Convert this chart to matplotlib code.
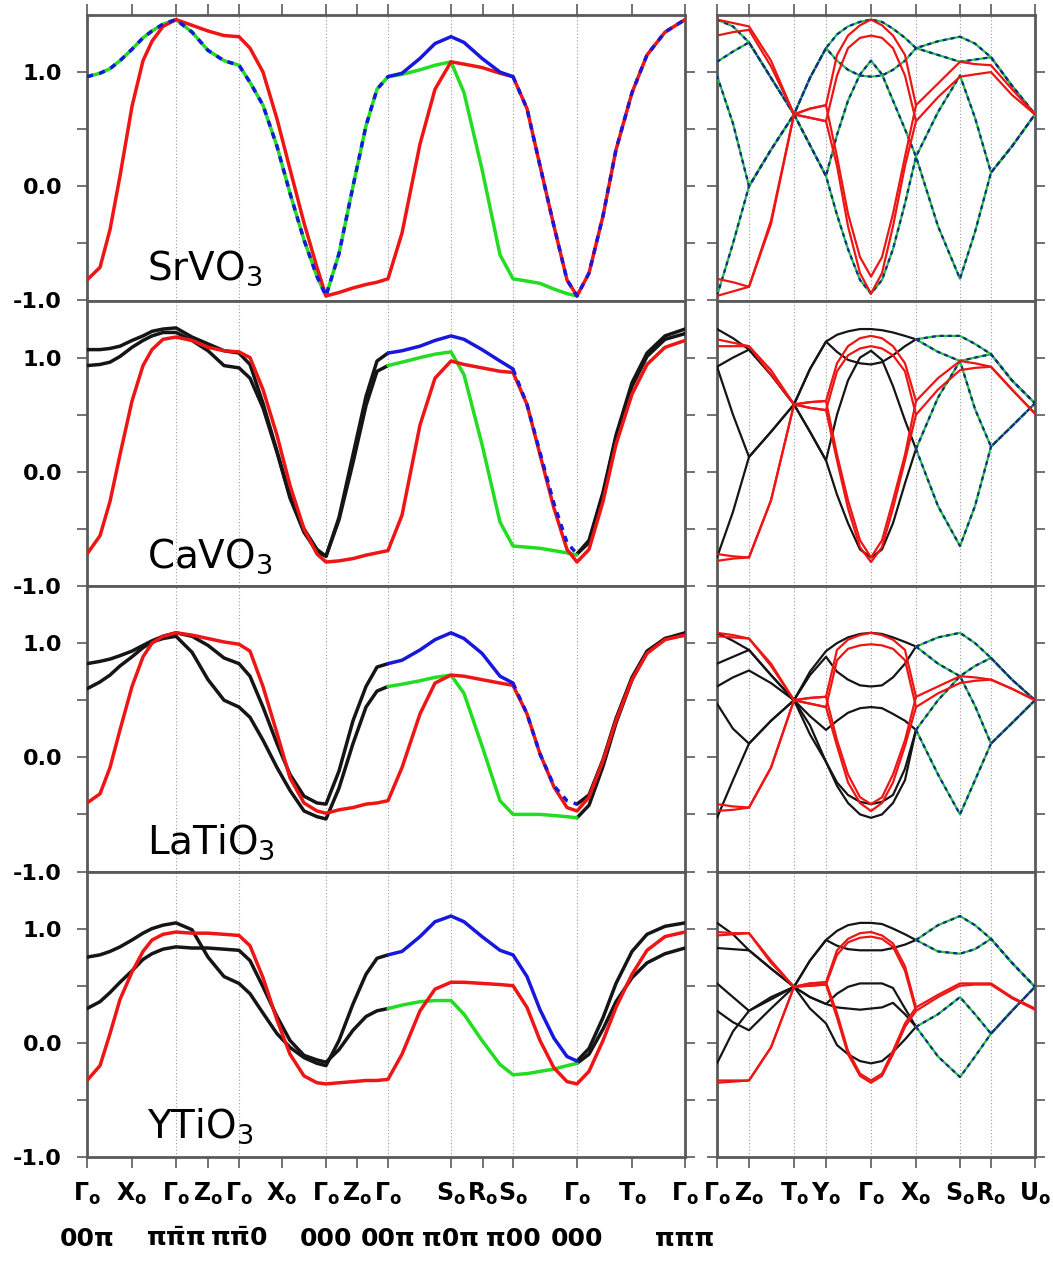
import numpy as np
import matplotlib
matplotlib.use("Agg")
import matplotlib.pyplot as plt
from matplotlib.transforms import blended_transform_factory

plt.rcParams['font.family'] = ['DejaVu Sans']
plt.rcParams['mathtext.fontset'] = 'dejavusans'
plt.rcParams['mathtext.default'] = 'regular'

N = None

# ---------------- k-path (left: long path, right: orthorhombic path) ----------------
LEFT_K = [0, 13, 23, 33, 45, 56, 65, 76, 89, 105, 121, 137, 152, 163, 176, 190, 203, 217,
          230, 239, 252, 266, 279, 290, 301, 315, 333, 348, 364, 377, 395, 413, 426, 440,
          453, 467, 480, 490, 502, 516, 529, 545, 560, 578, 598]
LEFT_TICKS = [0, 45, 89, 121, 152, 195, 239, 270, 301, 364, 396, 426, 490, 545, 598]
LEFT_LABELS = ['Γ', 'X', 'Γ', 'Z', 'Γ', 'X', 'Γ', 'Z', 'Γ', 'S', 'R', 'S', 'Γ', 'T', 'Γ']
LEFT_COORD_TICK = [0, 2, 4, 6, 8, 9, 11, 12, 14]
LEFT_COORDS = ['00π', 'π$\\bar{π}$π', 'π$\\bar{π}$0', '000', '00π', 'π0π', 'π00', '000', 'πππ']
LEFT_GRID = [89, 152, 239, 301, 364, 426, 490]

RIGHT_K = [0, 16, 32, 54, 77, 93, 109, 120, 131, 143, 154, 165, 176, 188, 199, 221, 243,
           258, 274, 295, 318]
RIGHT_TICKS = [0, 32, 77, 109, 154, 199, 243, 274, 318]
RIGHT_LABELS = ['Γ', 'Z', 'T', 'Y', 'Γ', 'X', 'S', 'R', 'U']
RIGHT_GRID = [32, 77, 109, 154, 199, 243, 274]

MATERIALS = ['SrVO$_3$', 'CaVO$_3$', 'LaTiO$_3$', 'YTiO$_3$']

# ---------------- SrVO3 ----------------
SRVO3_L_RED = [-0.82, -0.71, -0.38, 0.09, 0.70, 1.10, 1.27, 1.40, 1.46, 1.41, 1.36, 1.32, 1.31,
               1.21, 1.00, 0.59, 0.15, -0.32, -0.71, -0.96, -0.93, -0.89, -0.86, -0.84, -0.81,
               -0.41, 0.37, 0.85, 1.09, 1.07, 1.04, 0.99, 0.96, 0.68, 0.18, -0.35, -0.82, -0.96,
               -0.76, -0.26, 0.32, 0.82, 1.15, 1.35, 1.46]
SRVO3_L_GB = [0.96, 0.99, 1.03, 1.10, 1.20, 1.30, 1.36, 1.42, 1.46, 1.35, 1.19, 1.10, 1.06, 0.91,
              0.71, 0.35, -0.06, -0.47, -0.79, -0.96, -0.59, 0.00, 0.53, 0.85, 0.96] + [N] * 20
SRVO3_L_BLUE = [N] * 24 + [0.96, 0.99, 1.12, 1.25, 1.31, 1.26, 1.12, 1.00, 0.96] + [N] * 12
SRVO3_L_GREEN = [N] * 24 + [0.96, 0.98, 1.02, 1.06, 1.09, 0.82, 0.15, -0.60, -0.81, -0.83, -0.85,
                            -0.90, -0.94, -0.96] + [N] * 7
SRVO3_R_TEAL = [
    [1.46, 1.40, 1.26, 0.95, 0.63, 0.95, 1.21, 1.33, 1.40, 1.44, 1.46, 1.44, 1.38, 1.30, 1.21, 1.27, 1.31, 1.25, 1.13, 0.88, 0.63],
    [1.09, 1.18, 1.26, 0.95, 0.63, 0.95, 1.21, 1.10, 1.02, 0.97, 0.96, 0.97, 1.02, 1.10, 1.21, 1.15, 1.09, 1.11, 1.13, 0.88, 0.63],
    [0.97, 0.55, 0.00, 0.32, 0.63, 0.36, 0.09, 0.45, 0.75, 0.98, 1.10, 0.98, 0.75, 0.50, 0.26, 0.65, 0.97, 0.60, 0.12, 0.35, 0.63],
    [-0.96, -0.50, 0.00, 0.32, 0.63, 0.36, 0.09, -0.25, -0.55, -0.82, -0.94, -0.82, -0.55, -0.15, 0.26, -0.35, -0.81, -0.40, 0.12, 0.35, 0.63]]
SRVO3_R_RED = [
    [1.46, 1.43, 1.40, 1.10, 0.63, 0.68, 0.71, 1.15, 1.32, 1.41, 1.46, 1.41, 1.32, 1.15, 0.71, 0.90, 1.09, 1.07, 1.06, 0.85, 0.63],
    [1.32, 1.35, 1.37, 1.05, 0.63, 0.60, 0.57, 0.97, 1.21, 1.30, 1.32, 1.30, 1.21, 0.97, 0.57, 0.78, 0.96, 0.98, 1.00, 0.80, 0.63],
    [-0.81, -0.84, -0.88, -0.33, 0.63, 0.68, 0.71, 0.26, -0.24, -0.62, -0.79, -0.62, -0.24, 0.26, 0.71] + [N] * 6,
    [-0.96, -0.92, -0.88, -0.30, 0.63, 0.60, 0.57, 0.18, -0.35, -0.76, -0.94, -0.76, -0.35, 0.18, 0.57] + [N] * 6]
SRVO3_R_BLACK = []

# ---------------- CaVO3 ----------------
CAVO3_L_RED = [-0.72, -0.56, -0.26, 0.15, 0.62, 0.93, 1.07, 1.16, 1.18, 1.15, 1.09, 1.06, 1.05,
               1.00, 0.72, 0.32, -0.12, -0.50, -0.72, -0.79, -0.78, -0.76, -0.73, -0.71, -0.69,
               -0.38, 0.41, 0.82, 0.97, 0.94, 0.91, 0.88, 0.87, 0.59, 0.15, -0.32, -0.68, -0.79,
               -0.68, -0.26, 0.24, 0.68, 0.94, 1.09, 1.15]
CAVO3_L_BLACK1 = [1.07, 1.07, 1.08, 1.10, 1.15, 1.19, 1.23, 1.25, 1.26, 1.18, 1.12, 1.06, 1.04,
                  0.94, 0.60, 0.18, -0.21, -0.50, -0.68, -0.74, -0.40, 0.15, 0.66, 0.97, 1.04] + \
                 [N] * 12 + [-0.72, -0.60, -0.18, 0.32, 0.78, 1.04, 1.19, 1.25]
CAVO3_L_BLACK2 = [0.93, 0.94, 0.96, 1.01, 1.09, 1.15, 1.19, 1.22, 1.22, 1.15, 1.06, 0.93, 0.91,
                  0.82, 0.56, 0.17, -0.23, -0.53, -0.70, -0.74, -0.42, 0.08, 0.58, 0.88, 0.93] + \
                 [N] * 12 + [-0.72, -0.62, -0.20, 0.30, 0.75, 1.01, 1.16, 1.21]
CAVO3_L_BLUE = [N] * 24 + [1.04, 1.06, 1.10, 1.15, 1.19, 1.16, 1.07, 0.97, 0.90, 0.59, 0.17, -0.28,
                           -0.62, -0.72] + [N] * 7
CAVO3_L_GREEN = [N] * 24 + [0.93, 0.96, 1.00, 1.03, 1.05, 0.85, 0.24, -0.44, -0.65, -0.66, -0.67,
                            -0.69, -0.71, -0.73] + [N] * 7
CAVO3_R_BLACK = [
    [1.25, 1.17, 1.07, 0.85, 0.59, 0.90, 1.14, 1.20, 1.23, 1.25, 1.25, 1.24, 1.22, 1.19, 1.16] + [N] * 6,
    [0.92, 1.00, 1.07, 0.85, 0.59, 0.90, 1.14, 1.05, 0.98, 0.95, 0.94, 0.96, 1.02, 1.10, 1.16] + [N] * 6,
    [0.92, 0.50, 0.13, 0.35, 0.59, 0.35, 0.10, 0.50, 0.80, 1.00, 1.06, 0.98, 0.75, 0.45, 0.20] + [N] * 6,
    [-0.75, -0.35, 0.13, 0.35, 0.59, 0.35, 0.10, -0.20, -0.45, -0.68, -0.75, -0.68, -0.45, -0.10, 0.20] + [N] * 6]
CAVO3_R_TEAL = [
    [N] * 14 + [1.16, 1.19, 1.19, 1.12, 1.03, 0.80, 0.60],
    [N] * 14 + [1.16, 1.05, 0.97, 1.00, 1.03, 0.80, 0.60],
    [N] * 14 + [0.20, 0.65, 0.97, 0.55, 0.22, 0.40, 0.60],
    [N] * 14 + [0.20, -0.30, -0.65, -0.30, 0.22, 0.40, 0.60]]
CAVO3_R_RED = [
    [1.16, 1.13, 1.10, 0.89, 0.59, 0.61, 0.62, 0.95, 1.10, 1.17, 1.19, 1.17, 1.10, 0.95, 0.62, 0.82, 0.97, 0.95, 0.92, 0.72, 0.51],
    [1.10, 1.10, 1.10, 0.85, 0.59, 0.56, 0.54, 0.88, 1.02, 1.08, 1.10, 1.08, 1.02, 0.88, 0.50, 0.72, 0.89, 0.91, 0.92, 0.72, 0.51],
    [-0.72, -0.74, -0.75, -0.25, 0.59, 0.61, 0.62, 0.15, -0.25, -0.60, -0.75, -0.60, -0.25, 0.15, 0.62] + [N] * 6,
    [-0.78, -0.76, -0.75, -0.25, 0.59, 0.56, 0.54, 0.10, -0.32, -0.66, -0.79, -0.66, -0.32, 0.10, 0.50] + [N] * 6]

# ---------------- LaTiO3 ----------------
LATIO3_L_RED = [-0.40, -0.32, -0.09, 0.24, 0.62, 0.88, 1.00, 1.06, 1.09, 1.07, 1.04, 1.01, 0.99,
                0.93, 0.62, 0.21, -0.18, -0.40, -0.47, -0.49, -0.46, -0.44, -0.41, -0.40, -0.38,
                -0.09, 0.38, 0.65, 0.72, 0.71, 0.68, 0.65, 0.63, 0.38, 0.03, -0.26, -0.44, -0.47,
                -0.35, -0.03, 0.32, 0.68, 0.91, 1.03, 1.07]
LATIO3_L_BLACK1 = [0.82, 0.84, 0.86, 0.89, 0.93, 0.98, 1.02, 1.06, 1.09, 1.06, 0.98, 0.87, 0.82,
                   0.71, 0.44, 0.12, -0.15, -0.34, -0.40, -0.41, -0.12, 0.32, 0.62, 0.79, 0.82] + \
                  [N] * 12 + [-0.41, -0.33, -0.02, 0.34, 0.70, 0.93, 1.04, 1.07]
LATIO3_L_BLACK2 = [0.60, 0.66, 0.72, 0.80, 0.88, 0.96, 1.01, 1.04, 1.06, 0.92, 0.68, 0.50, 0.44,
                   0.35, 0.15, -0.09, -0.29, -0.47, -0.52, -0.54, -0.27, 0.12, 0.44, 0.58, 0.62] + \
                  [N] * 12 + [-0.53, -0.42, -0.08, 0.30, 0.68, 0.92, 1.04, 1.09]
LATIO3_L_BLUE = [N] * 24 + [0.82, 0.85, 0.94, 1.03, 1.09, 1.04, 0.91, 0.71, 0.65, 0.38, 0.03, -0.25,
                            -0.38, -0.41] + [N] * 7
LATIO3_L_GREEN = [N] * 24 + [0.62, 0.64, 0.67, 0.70, 0.72, 0.56, 0.10, -0.38, -0.50, -0.50, -0.50,
                             -0.51, -0.52, -0.53] + [N] * 7
LATIO3_R_BLACK = [
    [1.09, 1.02, 0.94, 0.72, 0.50, 0.75, 0.93, 1.00, 1.05, 1.08, 1.09, 1.08, 1.05, 1.01, 0.97] + [N] * 6,
    [0.82, 0.88, 0.94, 0.72, 0.50, 0.72, 0.88, 0.75, 0.68, 0.63, 0.62, 0.63, 0.70, 0.82, 0.97] + [N] * 6,
    [0.47, 0.25, 0.12, 0.32, 0.50, 0.36, 0.24, 0.32, 0.39, 0.43, 0.44, 0.43, 0.38, 0.32, 0.24] + [N] * 6,
    [-0.53, -0.20, 0.12, 0.32, 0.50, 0.20, -0.04, -0.25, -0.40, -0.50, -0.53, -0.50, -0.40, -0.20, 0.24] + [N] * 6,
    [0.62, 0.70, 0.76, 0.65, 0.50, 0.28, -0.04, -0.22, -0.33, -0.39, -0.41, -0.39, -0.33, -0.10, 0.24] + [N] * 6]
LATIO3_R_TEAL = [
    [N] * 14 + [0.97, 1.05, 1.09, 1.00, 0.87, 0.68, 0.50],
    [N] * 14 + [0.97, 0.82, 0.71, 0.80, 0.87, 0.68, 0.50],
    [N] * 14 + [0.24, 0.50, 0.71, 0.45, 0.12, 0.30, 0.50],
    [N] * 14 + [0.24, -0.15, -0.50, -0.20, 0.12, 0.30, 0.50]]
LATIO3_R_RED = [
    [1.09, 1.07, 1.04, 0.82, 0.50, 0.52, 0.53, 0.94, 1.03, 1.07, 1.09, 1.07, 1.03, 0.94, 0.53, 0.62, 0.71, 0.70, 0.68, 0.60, 0.50],
    [1.06, 1.05, 1.04, 0.80, 0.50, 0.47, 0.44, 0.85, 0.95, 0.98, 0.99, 0.98, 0.95, 0.85, 0.44, 0.56, 0.65, 0.67, 0.68, 0.60, 0.50],
    [-0.41, -0.43, -0.44, -0.09, 0.50, 0.52, 0.53, 0.15, -0.15, -0.35, -0.41, -0.35, -0.15, 0.15, 0.53] + [N] * 6,
    [-0.47, -0.46, -0.44, -0.09, 0.50, 0.47, 0.44, 0.10, -0.22, -0.40, -0.47, -0.40, -0.22, 0.10, 0.44] + [N] * 6]

# ---------------- YTiO3 ----------------
YTIO3_L_RED = [-0.33, -0.20, 0.08, 0.38, 0.62, 0.80, 0.90, 0.95, 0.97, 0.96, 0.96, 0.95, 0.94,
               0.85, 0.57, 0.20, -0.10, -0.29, -0.35, -0.36, -0.35, -0.34, -0.33, -0.33, -0.32,
               -0.10, 0.28, 0.47, 0.53, 0.53, 0.52, 0.51, 0.50, 0.31, 0.02, -0.22, -0.34, -0.36,
               -0.25, 0.02, 0.31, 0.60, 0.81, 0.93, 0.97]
YTIO3_L_BLACK1 = [0.75, 0.77, 0.80, 0.84, 0.90, 0.96, 1.00, 1.03, 1.05, 0.99, 0.75, 0.58, 0.52,
                  0.43, 0.26, 0.08, -0.04, -0.13, -0.18, -0.20, 0.02, 0.34, 0.60, 0.74, 0.77] + \
                 [N] * 12 + [-0.16, -0.05, 0.22, 0.52, 0.80, 0.95, 1.02, 1.05]
YTIO3_L_BLACK2 = [0.30, 0.36, 0.44, 0.53, 0.63, 0.73, 0.78, 0.82, 0.84, 0.83, 0.83, 0.82, 0.81,
                  0.72, 0.49, 0.23, 0.02, -0.11, -0.15, -0.17, -0.06, 0.11, 0.23, 0.28, 0.30] + \
                 [N] * 12 + [-0.18, -0.10, 0.12, 0.36, 0.57, 0.70, 0.78, 0.83]
YTIO3_L_BLUE = [N] * 24 + [0.77, 0.80, 0.93, 1.06, 1.11, 1.06, 0.93, 0.81, 0.77, 0.58, 0.29, 0.04,
                           -0.12, -0.16] + [N] * 7
YTIO3_L_GREEN = [N] * 24 + [0.30, 0.33, 0.36, 0.37, 0.37, 0.25, 0.02, -0.19, -0.28, -0.27, -0.25,
                            -0.23, -0.20, -0.18] + [N] * 7
YTIO3_R_BLACK = [
    [1.05, 0.95, 0.81, 0.65, 0.49, 0.72, 0.90, 0.98, 1.03, 1.05, 1.05, 1.04, 1.00, 0.95, 0.90] + [N] * 6,
    [0.83, 0.82, 0.81, 0.65, 0.49, 0.72, 0.90, 0.85, 0.82, 0.81, 0.81, 0.81, 0.83, 0.86, 0.90] + [N] * 6,
    [0.52, 0.40, 0.28, 0.38, 0.49, 0.40, 0.34, 0.43, 0.49, 0.52, 0.52, 0.52, 0.48, 0.30, 0.14] + [N] * 6,
    [-0.18, 0.10, 0.28, 0.40, 0.49, 0.30, 0.17, -0.02, -0.10, -0.16, -0.18, -0.16, -0.08, 0.03, 0.14] + [N] * 6,
    [0.28, 0.18, 0.11, 0.30, 0.49, 0.40, 0.34, 0.31, 0.30, 0.29, 0.30, 0.31, 0.35, 0.25, 0.14] + [N] * 6]
YTIO3_R_TEAL = [
    [N] * 14 + [0.90, 1.03, 1.11, 1.03, 0.91, 0.70, 0.49],
    [N] * 14 + [0.90, 0.80, 0.78, 0.82, 0.91, 0.70, 0.49],
    [N] * 14 + [0.14, 0.25, 0.40, 0.25, 0.08, 0.28, 0.49],
    [N] * 14 + [0.14, -0.12, -0.30, -0.12, 0.08, 0.28, 0.49]]
YTIO3_R_RED = [
    [0.97, 0.96, 0.96, 0.72, 0.49, 0.52, 0.53, 0.81, 0.91, 0.96, 0.97, 0.94, 0.87, 0.67, 0.31, 0.42, 0.52, 0.52, 0.52, 0.40, 0.30],
    [0.94, 0.95, 0.96, 0.70, 0.49, 0.50, 0.51, 0.77, 0.88, 0.92, 0.93, 0.91, 0.84, 0.63, 0.28, 0.40, 0.50, 0.51, 0.51, 0.39, 0.29],
    [-0.33, -0.33, -0.33, -0.04, 0.49, 0.52, 0.53, 0.26, -0.07, -0.27, -0.33, -0.27, -0.07, 0.17, 0.31] + [N] * 6,
    [-0.35, -0.34, -0.33, -0.04, 0.49, 0.50, 0.51, 0.22, -0.10, -0.29, -0.35, -0.29, -0.10, 0.14, 0.28] + [N] * 6]

# ---------------- styles ----------------
RED = '#ee1515'
GREEN = '#22dd22'
BLUE = '#1818dd'
BLACK = '#151515'
TEAL_G = '#22c04a'
TEAL_B = '#1a2a88'
SPINE = '#5a5a5a'
LW_L = 2.5
LW_R = 1.6
DASH = (0, (1.8, 1.8))

# left-panel drawing spec: (series, color, first index, last index, dashed)
LEFT_SPECS = [
    [(SRVO3_L_GREEN, GREEN, 24, 37, False), (SRVO3_L_GB, GREEN, 0, 24, False),
     (SRVO3_L_GB, BLUE, 0, 24, True), (SRVO3_L_RED, RED, 0, 44, False),
     (SRVO3_L_BLUE, BLUE, 24, 32, False), (SRVO3_L_RED, BLUE, 32, 44, True)],
    [(CAVO3_L_BLACK1, BLACK, 0, 44, False), (CAVO3_L_BLACK2, BLACK, 0, 44, False),
     (CAVO3_L_GREEN, GREEN, 24, 37, False), (CAVO3_L_RED, RED, 0, 44, False),
     (CAVO3_L_BLUE, BLUE, 24, 32, False), (CAVO3_L_BLUE, BLUE, 32, 37, True)],
    [(LATIO3_L_BLACK1, BLACK, 0, 44, False), (LATIO3_L_BLACK2, BLACK, 0, 44, False),
     (LATIO3_L_GREEN, GREEN, 24, 37, False), (LATIO3_L_RED, RED, 0, 44, False),
     (LATIO3_L_BLUE, BLUE, 24, 32, False), (LATIO3_L_BLUE, BLUE, 32, 37, True)],
    [(YTIO3_L_BLACK1, BLACK, 0, 44, False), (YTIO3_L_BLACK2, BLACK, 0, 44, False),
     (YTIO3_L_GREEN, GREEN, 24, 37, False), (YTIO3_L_RED, RED, 0, 44, False),
     (YTIO3_L_BLUE, BLUE, 24, 37, False)],
]
RIGHT_SETS = [
    (SRVO3_R_BLACK, SRVO3_R_TEAL, SRVO3_R_RED),
    (CAVO3_R_BLACK, CAVO3_R_TEAL, CAVO3_R_RED),
    (LATIO3_R_BLACK, LATIO3_R_TEAL, LATIO3_R_RED),
    (YTIO3_R_BLACK, YTIO3_R_TEAL, YTIO3_R_RED),
]
LABEL_Y = [-0.82, -0.84, -0.84, -0.83]


def arr(vals):
    return np.array([np.nan if v is None else v for v in vals], dtype=float)


def draw(ax, k, vals, color, i0, i1, dashed, lw, z):
    x = np.asarray(k, dtype=float)[i0:i1 + 1]
    y = arr(vals)[i0:i1 + 1]
    if dashed:
        ax.plot(x, y, color=color, lw=lw, ls=DASH, dash_capstyle='butt', zorder=z)
    else:
        ax.plot(x, y, color=color, lw=lw, solid_capstyle='round',
                solid_joinstyle='round', zorder=z)


W, H = 1053, 1272
fig = plt.figure(figsize=(W / 100, H / 100), dpi=100)
row_h = 285.5
tops = [15 + i * row_h for i in range(4)]

tick_font = dict(fontsize=16, fontweight='bold')

for i in range(4):
    bottom = 1 - (tops[i] + row_h) / H
    axL = fig.add_axes([87 / W, bottom, 598 / W, row_h / H])
    axR = fig.add_axes([717 / W, bottom, 318 / W, row_h / H])
    for ax, xmax, grid in ((axL, 598, LEFT_GRID), (axR, 318, RIGHT_GRID)):
        ax.set_xlim(0, xmax)
        ax.set_ylim(-1.0, 1.5)
        for g in grid:
            ax.axvline(g, color='#9a9a9a', lw=0.8, ls=(0, (1, 2)), zorder=1)
        for s in ax.spines.values():
            s.set_color(SPINE)
            s.set_linewidth(2.0)
        ax.set_yticks([-1.0, -0.5, 0.0, 0.5, 1.0])
        ax.tick_params(axis='y', which='both', direction='out', length=7, width=1.2,
                       color=SPINE, left=True, right=True, pad=11)
        ax.tick_params(axis='x', direction='out', length=8, width=1.2, color=SPINE, pad=9)
    axL.set_yticklabels(['-1.0', '', '0.0', '', '1.0'], **tick_font)
    axR.set_yticklabels([])

    # x ticks
    for ax, ticks, labels in ((axL, LEFT_TICKS, LEFT_LABELS), (axR, RIGHT_TICKS, RIGHT_LABELS)):
        ax.set_xticks(ticks)
        if i == 0:
            ax.tick_params(axis='x', top=True, bottom=False, labeltop=False, labelbottom=False)
        elif i == 3:
            ax.tick_params(axis='x', top=False, bottom=True, labelbottom=True)
            ax.set_xticklabels([lab + '$_o$' for lab in labels], fontsize=17, fontweight='bold')
        else:
            ax.tick_params(axis='x', top=False, bottom=False, labelbottom=False)

    # left bands
    for vals, color, i0, i1, dashed in LEFT_SPECS[i]:
        draw(axL, LEFT_K, vals, color, i0, i1, dashed, LW_L, 4 if dashed else 3)

    # right bands
    blacks, teals, reds = RIGHT_SETS[i]
    for vals in blacks:
        draw(axR, RIGHT_K, vals, BLACK, 0, 20, False, LW_R, 3)
    for vals in teals:
        draw(axR, RIGHT_K, vals, TEAL_G, 0, 20, False, LW_R, 3)
        draw(axR, RIGHT_K, vals, TEAL_B, 0, 20, True, LW_R, 4)
    for vals in reds:
        draw(axR, RIGHT_K, vals, RED, 0, 20, False, LW_R, 5)

    axL.text(60, LABEL_Y[i], MATERIALS[i], fontsize=28, ha='left', va='baseline', zorder=6)

    if i == 3:
        trans = blended_transform_factory(axL.transData, axL.transAxes)
        for ti, s in zip(LEFT_COORD_TICK, LEFT_COORDS):
            axL.text(LEFT_TICKS[ti], -0.245, s, transform=trans, ha='center', va='top',
                     fontsize=18, fontweight='bold', clip_on=False)

fig.savefig('out.png', dpi=100)
